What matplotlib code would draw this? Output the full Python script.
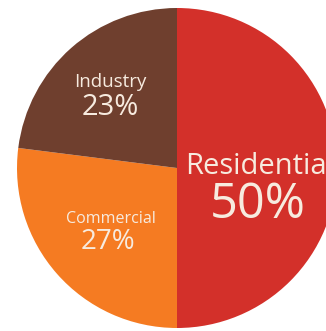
import matplotlib.pyplot as plt

sectors = ["Residential", "Commercial", "Industry"]
shares = [50, 27, 23]
colors = ["#D3302A", "#F57B22", "#6F3F2E"]

W, H = 326, 331
fig = plt.figure(figsize=(W / 100, H / 100), dpi=100)
ax = fig.add_axes([0, 0, 1, 1])

cx, cy, r = 177, H - 168, 160
ax.pie(shares, colors=colors, startangle=90, counterclock=False,
       center=(cx, cy), radius=r, frame=True,
       wedgeprops=dict(linewidth=0))
ax.set_xlim(0, W)
ax.set_ylim(0, H)
ax.set_aspect("equal")
ax.axis("off")

txt = "#F7EBDF"
font = "Open Sans"
# sector name and share, positioned by baseline (pixels from the top)
labels = [
    (sectors[0], 185, 174, 21, "left"),
    (f"{shares[0]}%", 258, 218, 35, "center"),
    (sectors[1], 110.5, 223, 11.5, "center"),
    (f"{shares[1]}%", 108, 249, 20, "center"),
    (sectors[2], 110.5, 87, 13.5, "center"),
    (f"{shares[2]}%", 110, 115, 21, "center"),
]
for s, x, y, size, ha in labels:
    ax.text(x, H - y, s, color=txt, fontsize=size, family=font,
            ha=ha, va="baseline")

fig.savefig("out.png", dpi=100, facecolor="white")
